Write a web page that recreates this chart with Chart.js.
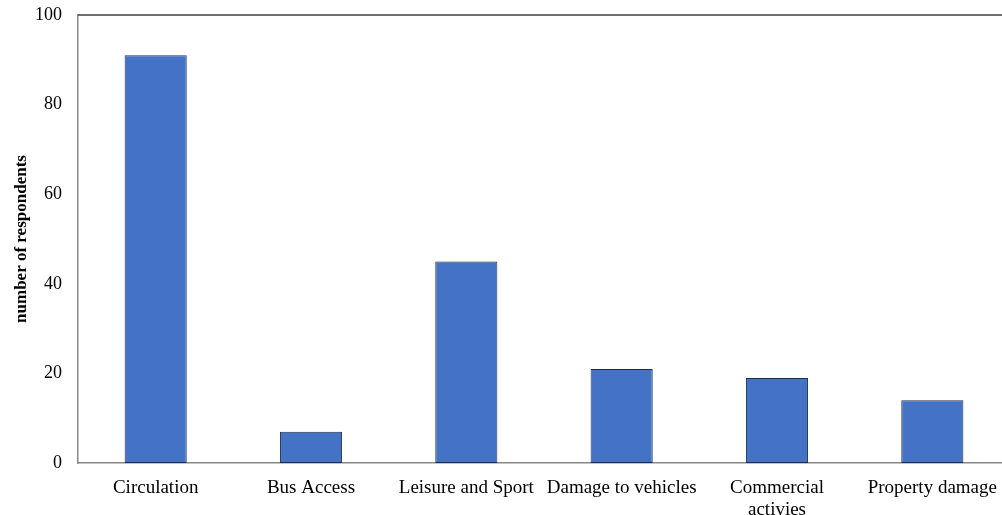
<!DOCTYPE html>
<html>
<head>
<meta charset="utf-8">
<script src="https://cdn.jsdelivr.net/npm/chart.js@4/dist/chart.umd.min.js"></script>
<style>
html,body{margin:0;padding:0;overflow:hidden;background:#fff;}
canvas{display:block;}
</style>
</head>
<body>
<canvas id="c" width="1010" height="515"></canvas>
<script>
const categories = ["Circulation", "Bus Access", "Leisure and Sport", "Damage to vehicles", ["Commercial", "activies"], "Property damage"];
const respondents = [91, 7, 45, 21, 19, 14];
const yTicks = [0, 20, 40, 60, 80, 100];

const topBorder = {
  id: 'topBorder',
  afterDraw(chart) {
    const {ctx, chartArea} = chart;
    ctx.save();
    ctx.strokeStyle = '#404040';
    ctx.lineWidth = 1.5;
    ctx.beginPath();
    ctx.moveTo(chartArea.left, chartArea.top);
    ctx.lineTo(chartArea.right, chartArea.top);
    ctx.stroke();
    ctx.restore();
  }
};

new Chart(document.getElementById('c'), {
  type: 'bar',
  data: {
    labels: categories,
    datasets: [{
      data: respondents,
      backgroundColor: '#4472C4',
      borderColor: '#1f2d4d',
      borderWidth: 1,
      borderSkipped: false,
      barPercentage: 0.4,
      categoryPercentage: 1.0
    }]
  },
  options: {
    responsive: false,
    animation: false,
    layout: { padding: { top: 15, right: 0, left: 0, bottom: 0 } },
    plugins: { legend: { display: false }, tooltip: { enabled: false } },
    scales: {
      x: {
        grid: { display: false, drawTicks: false },
        border: { display: true, color: '#888888', width: 1.5 },
        ticks: { color: '#000', font: { family: 'Liberation Serif', size: 19, lineHeight: 1.15 }, padding: 14, maxRotation: 0, autoSkip: false },
        afterFit(scale) { scale.height = 52; scale.paddingLeft = 0; scale.paddingRight = 0; }
      },
      y: {
        min: 0, max: 100,
        afterBuildTicks(scale) { scale.ticks = yTicks.map(v => ({ value: v })); },
        grid: { display: false, drawTicks: false },
        border: { display: true, color: '#888888', width: 1.5 },
        ticks: { color: '#000', font: { family: 'Liberation Serif', size: 18 }, padding: 16 },
        title: { display: true, text: 'number of respondents', color: '#000', font: { family: 'Liberation Serif', size: 17, weight: 'bold' }, padding: { top: 11, bottom: 0 } },
        afterFit(scale) { scale.width = 78; scale.paddingTop = 0; scale.paddingBottom = 0; }
      }
    }
  },
  plugins: [topBorder]
});
</script>
</body>
</html>
